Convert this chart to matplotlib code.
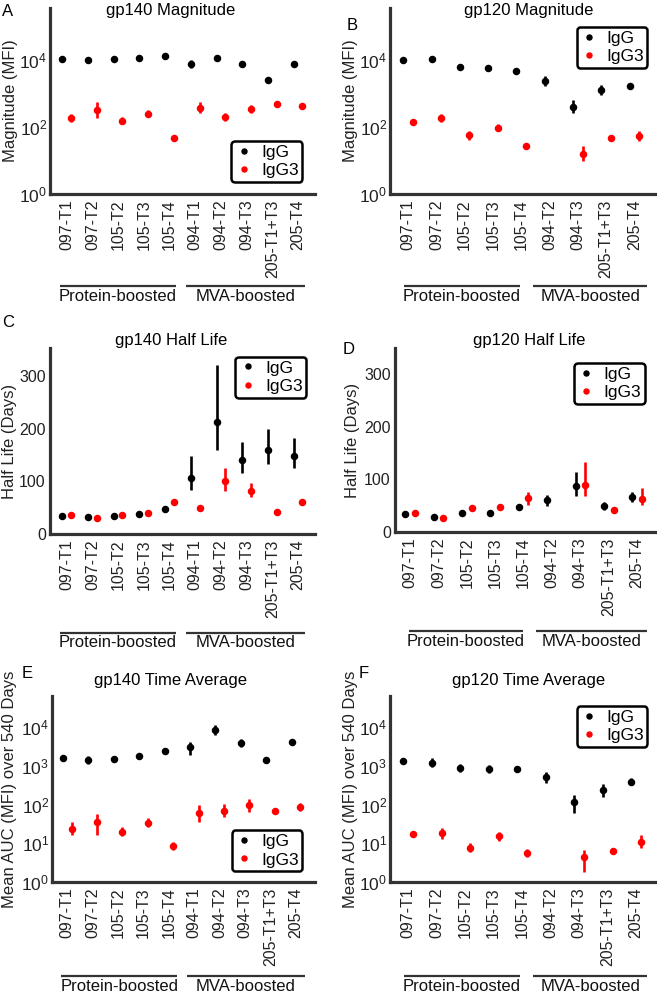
import matplotlib
matplotlib.use("Agg")
import matplotlib.pyplot as plt
import matplotlib.ticker as ticker
from matplotlib.lines import Line2D
import numpy as np

plt.rcParams['font.family'] = ['Liberation Sans', 'DejaVu Sans']
plt.rcParams['mathtext.fontset'] = 'custom'
plt.rcParams['mathtext.rm'] = 'Liberation Sans'

nan = np.nan

# categories
cats_140 = ['097-T1', '097-T2', '105-T2', '105-T3', '105-T4',
            '094-T1', '094-T2', '094-T3', '205-T1+T3', '205-T4']
cats_120 = ['097-T1', '097-T2', '105-T2', '105-T3', '105-T4',
            '094-T2', '094-T3', '205-T1+T3', '205-T4']
groups = ['Protein-boosted', 'MVA-boosted']

# A: gp140 magnitude (MFI)
a_igg = [10700, 10000, 10500, 11500, 13000, 7400, 11500, 7800, 2500, 7400]
a_igg_lo = [9600, 8800, 9400, 10300, 11700, 5600, 10000, 6500, 2250, 6300]
a_igg_hi = [11900, 11400, 11700, 12800, 14400, 9800, 13200, 9400, 2780, 8700]
a_igg3 = [190, 320, 155, 250, 46, 380, 200, 340, 480, 425]
a_igg3_lo = [144, 188, 123, 199, 38, 257, 148, 258, 428, 370]
a_igg3_hi = [250, 560, 195, 315, 55, 562, 270, 448, 539, 488]

# B: gp120 magnitude (MFI)
b_igg = [10000, 10700, 6300, 5700, 4800, 2300, 405, 1260, 1650]
b_igg_lo = [8900, 8500, 5400, 5000, 4200, 1630, 255, 890, 1440]
b_igg_hi = [11200, 13500, 7400, 6550, 5500, 3250, 640, 1780, 1890]
b_igg3 = [145, 190, 56, 95, 28, nan, 16, 48, 55]
b_igg3_lo = [129, 144, 42, 75, 23.3, nan, 9.6, 41, 39]
b_igg3_hi = [163, 250, 74, 120, 33.6, nan, 26.6, 56, 78]

# C: gp140 half life (days)
c_igg = [35, 33, 35, 39, 47, 107, 214, 140, 160, 149]
c_igg_lo = [33, 31, 33, 37, 45, 84, 160, 116, 133, 125]
c_igg_hi = [37, 35, 37, 41, 49, 149, 322, 176, 199, 182]
c_igg3 = [37, 31, 37, 40, 60, 49, 100, 82, 41, 61]
c_igg3_lo = [35, 29, 35, 38, 57, 44, 82, 71, 39, 58]
c_igg3_hi = [39, 33, 39, 42, 63, 54, 125, 97, 43, 64]

# D: gp120 half life (days)
d_igg = [34, 29, 37, 37, 47, 60, 87, 49, 67]
d_igg_lo = [32, 27, 35, 35, 45, 50, 69, 41, 58]
d_igg_hi = [36, 31, 39, 39, 49, 71, 115, 57, 76]
d_igg3 = [36, 27, 46, 47, 64, nan, 90, 42, 63]
d_igg3_lo = [34, 25, 44, 45, 52, nan, 68, 40, 52]
d_igg3_hi = [38, 29, 48, 49, 76, nan, 134, 44, 83]

# E: gp140 time average (mean AUC over 540 days)
e_igg = [1550, 1400, 1500, 1800, 2450, 3100, 8300, 3900, 1400, 4000]
e_igg_lo = [1380, 1110, 1280, 1570, 2180, 1870, 6150, 3100, 1250, 3480]
e_igg_hi = [1740, 1760, 1760, 2070, 2750, 4180, 11200, 4900, 1570, 4590]
e_igg3 = [24, 35, 20, 34, 8.5, 62, 69, 96, 69, 87]
e_igg3_lo = [16.6, 16.4, 15.2, 25.8, 6.75, 34.9, 46.7, 65, 63, 69]
e_igg3_hi = [34.7, 55.5, 26.4, 44.8, 10.7, 98, 102, 142, 76, 110]

# F: gp120 time average
f_igg = [1350, 1200, 890, 810, 820, 500, 117, 235, 390]
f_igg_lo = [1200, 910, 707, 643, 684, 354, 58.6, 159, 310]
f_igg_hi = [1515, 1580, 1120, 1020, 985, 706, 173, 348, 491]
f_igg3 = [17, 18, 7.7, 15, 5.6, nan, 4.3, 6.3, 11]
f_igg3_lo = [15.2, 12.7, 5.8, 11.4, 4.45, nan, 1.83, 5.36, 7.6]
f_igg3_hi = [19.1, 25.4, 10.2, 19.8, 7.05, nan, 6.67, 7.4, 15.9]

W, H = 657, 999
fig = plt.figure(figsize=(W / 100, H / 100), dpi=100)
AX = '#333333'


def add_ax(l, t, r, b):
    return fig.add_axes([l / W, 1 - b / H, (r - l) / W, (b - t) / H])


def panel(box, cats, igg, igg_lo, igg_hi, igg3, igg3_lo, igg3_hi,
          title, title_x, title_y, ylabel, ylabel_x, letter, letter_xy,
          xlim, ylim, yticks, log, leg_loc, leg_anchor, group_spans, group_y):
    ax = add_ax(*box)
    x = np.arange(len(cats))
    dodge = 0.17
    handles = []
    for vals, lo, hi, col, lab, dx in [
            (igg, igg_lo, igg_hi, 'black', 'IgG', -dodge),
            (igg3, igg3_lo, igg3_hi, 'red', 'IgG3', dodge)]:
        v = np.array(vals, dtype=float)
        err = np.array([v - np.array(lo, dtype=float), np.array(hi, dtype=float) - v])
        ax.errorbar(x + dx, v, yerr=err, fmt='o', color=col, ms=4.4,
                    elinewidth=1.9, capsize=0)
        handles.append(Line2D([], [], linestyle='none', marker='o', ms=3.6,
                              color=col, label=lab))
    if log:
        ax.set_yscale('log')
        ax.yaxis.set_major_formatter(ticker.LogFormatterMathtext())
        ax.yaxis.set_minor_locator(ticker.NullLocator())
    ax.set_yticks(yticks)
    ax.set_xlim(*xlim)
    ax.set_ylim(*ylim)
    ax.set_xticks(x)
    ax.set_xticklabels(cats, rotation=90)
    ax.tick_params(length=0, labelsize=11.5, colors='#222222', pad=3)
    ax.tick_params(axis='x', pad=4)
    if log:
        ax.tick_params(axis='y', labelsize=12.5, pad=2)
    for s in ['top', 'right']:
        ax.spines[s].set_visible(False)
    for s in ['left', 'bottom']:
        ax.spines[s].set_linewidth(2.3)
        ax.spines[s].set_color(AX)
    leg = ax.legend(handles=handles, loc=leg_loc, bbox_to_anchor=leg_anchor,
                    borderaxespad=0, fontsize=12.5, handlelength=1.0,
                    handletextpad=0.5, borderpad=0.2, labelspacing=0.2,
                    fancybox=True, framealpha=1, edgecolor='black')
    leg.get_frame().set_linewidth(1.8)
    # group lines and labels
    for (g0, g1), name in zip(group_spans, groups):
        ax.plot([g0, g1], [group_y, group_y], transform=ax.transAxes,
                clip_on=False, color=AX, lw=1.6, solid_capstyle='butt')
        ax.text((g0 + g1) / 2, group_y - 0.055, name, transform=ax.transAxes,
                ha='center', va='center', fontsize=12, color='#111111')
    t, b = box[1], box[3]
    fig.text(title_x / W, 1 - title_y / H, title, ha='center', va='center', fontsize=12)
    fig.text(ylabel_x / W, 1 - (t + b) / 2 / H, ylabel, rotation=90,
             ha='center', va='center', fontsize=12, color='#222222')
    fig.text(letter_xy[0] / W, 1 - letter_xy[1] / H, letter, ha='center',
             va='center', fontsize=12)
    return ax


left_groups = [(0.036, 0.475), (0.512, 0.962)]
right_groups = [(0.052, 0.487), (0.537, 0.962)]

panel((50, 8, 315, 194), cats_140, a_igg, a_igg_lo, a_igg_hi, a_igg3, a_igg3_lo, a_igg3_hi,
      'gp140 Magnitude', 171, 10, 'Magnitude (MFI)', 11, 'A', (8, 11),
      (-0.65, 9.66), (1, 10 ** 5.55), [1, 1e2, 1e4], True,
      'lower right', (0.951, 0.065), left_groups, -0.495)

panel((390, 8, 657, 194), cats_120, b_igg, b_igg_lo, b_igg_hi, b_igg3, b_igg3_lo, b_igg3_hi,
      'gp120 Magnitude', 529, 10, 'Magnitude (MFI)', 351, 'B', (352, 26),
      (-0.64, 8.8), (1, 10 ** 5.55), [1, 1e2, 1e4], True,
      'upper right', (0.963, 0.898), right_groups, -0.495)

panel((50, 348, 315, 534), cats_140, c_igg, c_igg_lo, c_igg_hi, c_igg3, c_igg3_lo, c_igg3_hi,
      'gp140 Half Life', 171, 340, 'Half Life (Days)', 10, 'C', (8, 322),
      (-0.65, 9.66), (0, 354), [0, 100, 200, 300], False,
      'upper right', (0.966, 0.952), left_groups, -0.53)

panel((395, 348, 657, 532), cats_120, d_igg, d_igg_lo, d_igg_hi, d_igg3, d_igg3_lo, d_igg3_hi,
      'gp120 Half Life', 529, 340, 'Half Life (Days)', 352, 'D', (349, 349),
      (-0.53, 8.7), (0, 350), [0, 100, 200, 300], False,
      'upper right', (0.954, 0.918), right_groups, -0.54)

panel((52, 696, 315, 882), cats_140, e_igg, e_igg_lo, e_igg_hi, e_igg3, e_igg3_lo, e_igg3_hi,
      'gp140 Time Average', 170, 680, 'Mean AUC (MFI) over 540 Days', 10, 'E', (27, 674),
      (-0.6, 9.75), (1, 10 ** 4.8), [1, 10, 100, 1e3, 1e4], True,
      'lower right', (0.951, 0.059), left_groups, -0.505)

panel((390, 696, 657, 882), cats_120, f_igg, f_igg_lo, f_igg_hi, f_igg3, f_igg3_lo, f_igg3_hi,
      'gp120 Time Average', 529, 680, 'Mean AUC (MFI) over 540 Days', 351, 'F', (364, 674),
      (-0.64, 8.73), (1, 10 ** 4.8), [1, 10, 100, 1e3, 1e4], True,
      'upper right', (0.963, 0.946), right_groups, -0.505)

fig.savefig('out.png', dpi=100)
